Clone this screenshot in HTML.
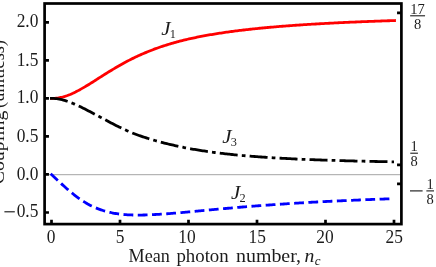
<!DOCTYPE html>
<html><head><meta charset="utf-8"><title>Coupling vs mean photon number</title>
<style>
html,body{margin:0;padding:0;background:#fff;}
body{width:436px;height:267px;overflow:hidden;font-family:"Liberation Serif",serif;}
svg{display:block;}
text{font-family:"Liberation Serif",serif;fill:#1c1c1c;}
.it{font-style:italic;}
</style></head><body>
<svg width="436" height="267" viewBox="0 0 436 267">
<rect x="0" y="0" width="436" height="267" fill="#ffffff"/>

<line x1="44.6" y1="174.70" x2="401.4" y2="174.70" stroke="#a4a4a4" stroke-width="1"/>
<path d="M50.13,98.36 L51.47,98.38 L52.80,98.36 L54.14,98.31 L55.47,98.22 L56.81,98.09 L58.14,97.92 L59.48,97.71 L60.81,97.45 L62.15,97.16 L63.48,96.82 L64.82,96.43 L66.15,96.00 L67.49,95.54 L68.82,95.03 L70.16,94.49 L71.49,93.91 L72.83,93.31 L74.16,92.67 L75.50,92.02 L76.83,91.33 L78.17,90.62 L79.50,89.90 L80.84,89.15 L82.17,88.39 L83.51,87.62 L84.84,86.84 L86.18,86.05 L87.51,85.25 L88.85,84.44 L90.18,83.62 L91.52,82.79 L92.85,81.96 L94.19,81.12 L95.52,80.27 L96.86,79.41 L98.19,78.55 L99.53,77.69 L100.86,76.83 L102.20,75.98 L103.53,75.13 L104.87,74.29 L106.20,73.46 L107.54,72.63 L108.87,71.81 L110.21,71.00 L111.54,70.19 L112.88,69.40 L114.21,68.60 L115.55,67.81 L116.88,67.03 L118.22,66.25 L119.55,65.48 L120.89,64.72 L122.22,63.96 L123.56,63.22 L124.89,62.49 L126.23,61.78 L127.57,61.08 L128.90,60.38 L130.24,59.70 L131.57,59.03 L132.91,58.37 L134.24,57.72 L135.58,57.09 L136.91,56.46 L138.25,55.84 L139.58,55.23 L140.92,54.64 L142.25,54.05 L143.59,53.47 L144.92,52.90 L146.26,52.34 L147.59,51.79 L148.93,51.25 L150.26,50.72 L151.60,50.20 L152.93,49.68 L154.27,49.18 L155.60,48.68 L156.94,48.20 L158.27,47.72 L159.61,47.26 L160.94,46.80 L162.28,46.36 L163.61,45.92 L164.95,45.48 L166.28,45.06 L167.62,44.64 L168.95,44.23 L170.29,43.83 L171.62,43.43 L172.96,43.05 L174.29,42.66 L175.63,42.29 L176.96,41.92 L178.30,41.57 L179.63,41.21 L180.97,40.87 L182.30,40.53 L183.64,40.20 L184.97,39.87 L186.31,39.56 L187.64,39.25 L188.98,38.94 L190.31,38.65 L191.65,38.36 L192.98,38.07 L194.32,37.79 L195.65,37.51 L196.99,37.23 L198.32,36.97 L199.66,36.70 L201.00,36.44 L202.33,36.19 L203.67,35.94 L205.00,35.69 L206.34,35.45 L207.67,35.21 L209.01,34.97 L210.34,34.74 L211.68,34.51 L213.01,34.29 L214.35,34.07 L215.68,33.85 L217.02,33.64 L218.35,33.43 L219.69,33.22 L221.02,33.02 L222.36,32.82 L223.69,32.62 L225.03,32.42 L226.36,32.23 L227.70,32.05 L229.03,31.86 L230.37,31.68 L231.70,31.50 L233.04,31.32 L234.37,31.14 L235.71,30.97 L237.04,30.80 L238.38,30.64 L239.71,30.47 L241.05,30.31 L242.38,30.15 L243.72,29.99 L245.05,29.84 L246.39,29.68 L247.72,29.53 L249.06,29.38 L250.39,29.24 L251.73,29.09 L253.06,28.95 L254.40,28.81 L255.73,28.67 L257.07,28.53 L258.40,28.40 L259.74,28.26 L261.07,28.13 L262.41,28.00 L263.74,27.88 L265.08,27.75 L266.41,27.63 L267.75,27.50 L269.08,27.38 L270.42,27.26 L271.75,27.14 L273.09,27.03 L274.42,26.91 L275.76,26.80 L277.10,26.69 L278.43,26.58 L279.77,26.47 L281.10,26.36 L282.44,26.25 L283.77,26.15 L285.11,26.05 L286.44,25.94 L287.78,25.84 L289.11,25.74 L290.45,25.64 L291.78,25.55 L293.12,25.45 L294.45,25.36 L295.79,25.26 L297.12,25.17 L298.46,25.08 L299.79,24.99 L301.13,24.90 L302.46,24.81 L303.80,24.72 L305.13,24.64 L306.47,24.55 L307.80,24.47 L309.14,24.38 L310.47,24.30 L311.81,24.22 L313.14,24.14 L314.48,24.06 L315.81,23.98 L317.15,23.90 L318.48,23.83 L319.82,23.75 L321.15,23.67 L322.49,23.60 L323.82,23.53 L325.16,23.45 L326.49,23.38 L327.83,23.31 L329.16,23.24 L330.50,23.17 L331.83,23.10 L333.17,23.03 L334.50,22.97 L335.84,22.90 L337.17,22.83 L338.51,22.77 L339.84,22.70 L341.18,22.64 L342.51,22.58 L343.85,22.52 L345.18,22.45 L346.52,22.39 L347.85,22.33 L349.19,22.27 L350.52,22.21 L351.86,22.15 L353.20,22.10 L354.53,22.04 L355.87,21.98 L357.20,21.92 L358.54,21.87 L359.87,21.81 L361.21,21.76 L362.54,21.70 L363.88,21.65 L365.21,21.60 L366.55,21.55 L367.88,21.49 L369.22,21.44 L370.55,21.39 L371.89,21.34 L373.22,21.29 L374.56,21.24 L375.89,21.19 L377.23,21.14 L378.56,21.09 L379.90,21.05 L381.23,21.00 L382.57,20.95 L383.90,20.91 L385.24,20.86 L386.57,20.81 L387.91,20.77 L389.24,20.73 L390.58,20.68 L391.91,20.64 L393.25,20.59 L394.58,20.55 L395.92,20.51" fill="none" stroke="#ff0000" stroke-width="2.8" stroke-linejoin="round"/>
<path d="M49.99,98.40 L51.32,98.38 L52.65,98.40 L53.98,98.46 L55.31,98.58 L56.63,98.73 L57.96,98.93 L59.29,99.16 L60.62,99.43 L61.95,99.73 L63.28,100.06 L64.60,100.43 L65.93,100.85 L67.26,101.29 L68.59,101.77 L69.92,102.26 L71.24,102.78 L72.57,103.31 L73.90,103.85 L75.23,104.41 L76.56,105.00 L77.89,105.60 L79.21,106.22 L80.54,106.86 L81.87,107.51 L83.20,108.17 L84.53,108.85 L85.85,109.53 L87.18,110.22 L88.51,110.91 L89.84,111.61 L91.17,112.32 L92.50,113.02 L93.82,113.72 L95.15,114.42 L96.48,115.12 L97.81,115.82 L99.14,116.52 L100.47,117.24 L101.79,117.96 L103.12,118.68 L104.45,119.39 L105.78,120.10 L107.11,120.81 L108.43,121.51 L109.76,122.21 L111.09,122.91 L112.42,123.60 L113.75,124.28 L115.08,124.96 L116.40,125.63 L117.73,126.29 L119.06,126.95 L120.39,127.60 L121.72,128.24 L123.04,128.87 L124.37,129.48 L125.70,130.09 L127.03,130.69 L128.36,131.28 L129.69,131.86 L131.01,132.42 L132.34,132.98 L133.67,133.52 L135.00,134.04 L136.33,134.54 L137.66,135.02 L138.98,135.48 L140.31,135.93 L141.64,136.38 L142.97,136.81 L144.30,137.24 L145.62,137.66 L146.95,138.08 L148.28,138.50 L149.61,138.92 L150.94,139.33 L152.27,139.73 L153.59,140.12 L154.92,140.51 L156.25,140.89 L157.58,141.27 L158.91,141.63 L160.23,141.99 L161.56,142.35 L162.89,142.69 L164.22,143.04 L165.55,143.37 L166.88,143.69 L168.20,144.01 L169.53,144.32 L170.86,144.63 L172.19,144.93 L173.52,145.22 L174.84,145.52 L176.17,145.81 L177.50,146.10 L178.83,146.40 L180.16,146.68 L181.49,146.96 L182.81,147.24 L184.14,147.51 L185.47,147.77 L186.80,148.03 L188.13,148.29 L189.46,148.54 L190.78,148.78 L192.11,149.02 L193.44,149.26 L194.77,149.49 L196.10,149.72 L197.42,149.94 L198.75,150.16 L200.08,150.37 L201.41,150.58 L202.74,150.79 L204.07,150.99 L205.39,151.19 L206.72,151.39 L208.05,151.58 L209.38,151.77 L210.71,151.96 L212.03,152.14 L213.36,152.32 L214.69,152.49 L216.02,152.66 L217.35,152.83 L218.68,153.00 L220.00,153.16 L221.33,153.32 L222.66,153.48 L223.99,153.63 L225.32,153.78 L226.65,153.93 L227.97,154.08 L229.30,154.22 L230.63,154.36 L231.96,154.50 L233.29,154.64 L234.61,154.77 L235.94,154.90 L237.27,155.03 L238.60,155.16 L239.93,155.28 L241.26,155.40 L242.58,155.52 L243.91,155.64 L245.24,155.75 L246.57,155.87 L247.90,155.98 L249.22,156.09 L250.55,156.20 L251.88,156.30 L253.21,156.41 L254.54,156.51 L255.87,156.61 L257.19,156.71 L258.52,156.81 L259.85,156.90 L261.18,157.00 L262.51,157.09 L263.84,157.18 L265.16,157.27 L266.49,157.36 L267.82,157.44 L269.15,157.53 L270.48,157.61 L271.80,157.70 L273.13,157.78 L274.46,157.86 L275.79,157.94 L277.12,158.01 L278.45,158.09 L279.77,158.17 L281.10,158.24 L282.43,158.31 L283.76,158.38 L285.09,158.45 L286.41,158.52 L287.74,158.59 L289.07,158.66 L290.40,158.72 L291.73,158.79 L293.06,158.85 L294.38,158.92 L295.71,158.98 L297.04,159.04 L298.37,159.10 L299.70,159.16 L301.03,159.22 L302.35,159.28 L303.68,159.33 L305.01,159.39 L306.34,159.44 L307.67,159.50 L308.99,159.55 L310.32,159.61 L311.65,159.66 L312.98,159.71 L314.31,159.76 L315.64,159.81 L316.96,159.86 L318.29,159.91 L319.62,159.96 L320.95,160.00 L322.28,160.05 L323.60,160.09 L324.93,160.14 L326.26,160.18 L327.59,160.23 L328.92,160.27 L330.25,160.31 L331.57,160.36 L332.90,160.40 L334.23,160.44 L335.56,160.48 L336.89,160.52 L338.22,160.56 L339.54,160.60 L340.87,160.64 L342.20,160.67 L343.53,160.71 L344.86,160.75 L346.18,160.79 L347.51,160.82 L348.84,160.86 L350.17,160.89 L351.50,160.93 L352.83,160.96 L354.15,160.99 L355.48,161.03 L356.81,161.06 L358.14,161.09 L359.47,161.12 L360.79,161.16 L362.12,161.19 L363.45,161.22 L364.78,161.25 L366.11,161.28 L367.44,161.31 L368.76,161.34 L370.09,161.37 L371.42,161.39 L372.75,161.42 L374.08,161.45 L375.41,161.48 L376.73,161.50 L378.06,161.53 L379.39,161.56 L380.72,161.58 L382.05,161.61 L383.37,161.64 L384.70,161.66 L386.03,161.69 L387.36,161.71 L388.69,161.74 L390.02,161.76 L391.34,161.78 L392.67,161.81 L394.00,161.83" fill="none" stroke="#000000" stroke-width="2.8" stroke-dasharray="18.0 4.15 3.7 4.15" stroke-linejoin="round"/>
<path d="M50.68,173.68 L52.00,174.92 L53.33,176.17 L54.65,177.42 L55.97,178.67 L57.30,179.92 L58.62,181.17 L59.95,182.41 L61.27,183.64 L62.59,184.87 L63.92,186.08 L65.24,187.27 L66.57,188.45 L67.89,189.60 L69.21,190.74 L70.54,191.85 L71.86,192.94 L73.19,194.01 L74.51,195.05 L75.83,196.07 L77.16,197.06 L78.48,198.03 L79.81,198.97 L81.13,199.88 L82.45,200.76 L83.78,201.61 L85.10,202.43 L86.43,203.22 L87.75,203.98 L89.07,204.70 L90.40,205.39 L91.72,206.05 L93.05,206.68 L94.37,207.27 L95.69,207.84 L97.02,208.38 L98.34,208.90 L99.67,209.39 L100.99,209.85 L102.31,210.29 L103.64,210.71 L104.96,211.11 L106.29,211.48 L107.61,211.83 L108.93,212.16 L110.26,212.46 L111.58,212.75 L112.91,213.02 L114.23,213.27 L115.55,213.50 L116.88,213.71 L118.20,213.90 L119.52,214.07 L120.85,214.22 L122.17,214.36 L123.50,214.49 L124.82,214.60 L126.14,214.69 L127.47,214.78 L128.79,214.85 L130.12,214.91 L131.44,214.97 L132.76,215.01 L134.09,215.04 L135.41,215.07 L136.74,215.08 L138.06,215.09 L139.38,215.08 L140.71,215.07 L142.03,215.05 L143.36,215.02 L144.68,214.99 L146.00,214.95 L147.33,214.90 L148.65,214.85 L149.98,214.79 L151.30,214.73 L152.62,214.66 L153.95,214.59 L155.27,214.52 L156.60,214.44 L157.92,214.36 L159.24,214.28 L160.57,214.19 L161.89,214.11 L163.22,214.02 L164.54,213.92 L165.86,213.83 L167.19,213.73 L168.51,213.63 L169.84,213.53 L171.16,213.42 L172.48,213.32 L173.81,213.21 L175.13,213.10 L176.46,212.99 L177.78,212.87 L179.10,212.76 L180.43,212.64 L181.75,212.52 L183.08,212.40 L184.40,212.29 L185.72,212.17 L187.05,212.04 L188.37,211.92 L189.70,211.80 L191.02,211.68 L192.34,211.56 L193.67,211.43 L194.99,211.31 L196.32,211.19 L197.64,211.06 L198.96,210.94 L200.29,210.81 L201.61,210.69 L202.94,210.57 L204.26,210.44 L205.58,210.32 L206.91,210.19 L208.23,210.07 L209.56,209.95 L210.88,209.83 L212.20,209.70 L213.53,209.58 L214.85,209.46 L216.18,209.34 L217.50,209.22 L218.82,209.10 L220.15,208.98 L221.47,208.86 L222.80,208.74 L224.12,208.62 L225.44,208.50 L226.77,208.38 L228.09,208.27 L229.42,208.15 L230.74,208.03 L232.06,207.92 L233.39,207.80 L234.71,207.69 L236.04,207.58 L237.36,207.46 L238.68,207.35 L240.01,207.24 L241.33,207.13 L242.66,207.02 L243.98,206.91 L245.30,206.80 L246.63,206.70 L247.95,206.59 L249.28,206.48 L250.60,206.38 L251.92,206.27 L253.25,206.17 L254.57,206.07 L255.90,205.97 L257.22,205.86 L258.54,205.76 L259.87,205.66 L261.19,205.56 L262.51,205.47 L263.84,205.37 L265.16,205.27 L266.49,205.17 L267.81,205.08 L269.13,204.98 L270.46,204.89 L271.78,204.80 L273.11,204.70 L274.43,204.61 L275.75,204.52 L277.08,204.43 L278.40,204.34 L279.73,204.25 L281.05,204.16 L282.37,204.07 L283.70,203.98 L285.02,203.89 L286.35,203.80 L287.67,203.72 L288.99,203.63 L290.32,203.55 L291.64,203.46 L292.97,203.38 L294.29,203.29 L295.61,203.21 L296.94,203.13 L298.26,203.05 L299.59,202.97 L300.91,202.89 L302.23,202.81 L303.56,202.73 L304.88,202.65 L306.21,202.57 L307.53,202.50 L308.85,202.42 L310.18,202.34 L311.50,202.27 L312.83,202.20 L314.15,202.12 L315.47,202.05 L316.80,201.98 L318.12,201.91 L319.45,201.84 L320.77,201.77 L322.09,201.70 L323.42,201.63 L324.74,201.57 L326.07,201.50 L327.39,201.43 L328.71,201.37 L330.04,201.31 L331.36,201.24 L332.69,201.18 L334.01,201.11 L335.33,201.05 L336.66,200.99 L337.98,200.93 L339.31,200.87 L340.63,200.81 L341.95,200.75 L343.28,200.69 L344.60,200.63 L345.93,200.57 L347.25,200.51 L348.57,200.45 L349.90,200.39 L351.22,200.33 L352.55,200.28 L353.87,200.22 L355.19,200.16 L356.52,200.11 L357.84,200.05 L359.17,200.00 L360.49,199.94 L361.81,199.89 L363.14,199.83 L364.46,199.78 L365.79,199.72 L367.11,199.67 L368.43,199.62 L369.76,199.57 L371.08,199.51 L372.41,199.46 L373.73,199.41 L375.05,199.36 L376.38,199.31 L377.70,199.26 L379.03,199.21 L380.35,199.16 L381.67,199.11 L383.00,199.06 L384.32,199.01 L385.65,198.96 L386.97,198.92 L388.29,198.87 L389.62,198.82 L390.94,198.77 L392.27,198.73 L393.59,198.68" fill="none" stroke="#0000ff" stroke-width="2.8" stroke-dasharray="9.8 4.46" stroke-linejoin="round"/>
<path d="M44.6,22.31h4.35 M44.6,60.34h4.35 M44.6,98.38h4.35 M44.6,136.41h4.35 M44.6,174.45h4.35 M44.6,212.48h4.35 M401.4,12.80h-4.35 M401.4,164.94h-4.35 M401.4,183.96h-4.35 M51.50,224.1v-4.35 M120.00,224.1v-4.35 M188.50,224.1v-4.35 M257.00,224.1v-4.35 M325.50,224.1v-4.35 M394.00,224.1v-4.35" fill="none" stroke="#000" stroke-width="2.7"/>
<rect x="44.6" y="3.5" width="356.80" height="220.60" fill="none" stroke="#000" stroke-width="2.7"/>
<g style="filter:grayscale(1)">
<text transform="translate(38.40,26.60) scale(0.955,1)" font-size="18.2" text-anchor="end">2.0</text>
<text transform="translate(38.40,65.70) scale(0.955,1)" font-size="18.2" text-anchor="end">1.5</text>
<text transform="translate(38.40,102.60) scale(0.955,1)" font-size="18.2" text-anchor="end">1.0</text>
<text transform="translate(38.40,141.50) scale(0.955,1)" font-size="18.2" text-anchor="end">0.5</text>
<text transform="translate(38.40,180.30) scale(0.955,1)" font-size="18.2" text-anchor="end">0.0</text>
<text transform="translate(38.40,217.20) scale(0.955,1)" font-size="18.2" text-anchor="end">0.5</text>
<line x1="4.4" y1="211.8" x2="14.8" y2="211.8" stroke="#111" stroke-width="1.1"/>
<text transform="translate(51.00,243.00) scale(0.955,1)" font-size="18.2" text-anchor="middle">0</text>
<text transform="translate(120.10,243.00) scale(0.955,1)" font-size="18.2" text-anchor="middle">5</text>
<text transform="translate(187.00,243.00) scale(0.955,1)" font-size="18.2" text-anchor="middle">10</text>
<text transform="translate(257.20,243.00) scale(0.955,1)" font-size="18.2" text-anchor="middle">15</text>
<text transform="translate(325.00,243.00) scale(0.955,1)" font-size="18.2" text-anchor="middle">20</text>
<text transform="translate(394.20,243.00) scale(0.955,1)" font-size="18.2" text-anchor="middle">25</text>
<text x="128.6" y="261.5" font-size="18.2" textLength="41.3" lengthAdjust="spacingAndGlyphs">Mean</text>
<text x="176.4" y="261.5" font-size="18.2" textLength="52.3" lengthAdjust="spacingAndGlyphs">photon</text>
<text x="236.0" y="261.5" font-size="18.2" textLength="65.0" lengthAdjust="spacingAndGlyphs">number,</text>
<text transform="translate(304.60,261.50) scale(1.08,1)" font-size="18.2" text-anchor="start" class="it">n</text>
<text transform="translate(314.70,265.00) scale(1.0,1)" font-size="13" text-anchor="start" class="it">c</text>
<text transform="translate(3.9,184.2) rotate(-90)" font-size="18.2" textLength="73.6" lengthAdjust="spacingAndGlyphs">Coupling</text>
<text transform="translate(3.9,107.9) rotate(-90)" font-size="18.2" textLength="67.9" lengthAdjust="spacingAndGlyphs">(unitless)</text>
<text transform="translate(161.20,34.80) scale(1.14,1)" font-size="18.4" text-anchor="start" class="it">J</text><text transform="translate(169.80,37.80) scale(0.95,1)" font-size="13" text-anchor="start">1</text>
<text transform="translate(222.20,143.30) scale(1.14,1)" font-size="18.4" text-anchor="start" class="it">J</text><text transform="translate(230.80,146.30) scale(0.95,1)" font-size="13" text-anchor="start">3</text>
<text transform="translate(230.90,198.90) scale(1.14,1)" font-size="18.4" text-anchor="start" class="it">J</text><text transform="translate(239.50,201.90) scale(0.95,1)" font-size="13" text-anchor="start">2</text>
<text transform="translate(417.60,13.60) scale(0.93,1)" font-size="15.6" text-anchor="middle">17</text><line x1="410.15" y1="15.8" x2="425.05" y2="15.8" stroke="#111" stroke-width="1.05"/><text transform="translate(417.60,28.90) scale(0.93,1)" font-size="15.6" text-anchor="middle">8</text>
<text transform="translate(414.10,151.00) scale(0.93,1)" font-size="15.6" text-anchor="middle">1</text><line x1="410.27" y1="153.2" x2="417.93" y2="153.2" stroke="#111" stroke-width="1.05"/><text transform="translate(414.10,166.30) scale(0.93,1)" font-size="15.6" text-anchor="middle">8</text>
<text transform="translate(430.20,188.70) scale(0.93,1)" font-size="15.6" text-anchor="middle">1</text><line x1="426.37" y1="190.9" x2="434.03" y2="190.9" stroke="#111" stroke-width="1.05"/><text transform="translate(430.20,204.00) scale(0.93,1)" font-size="15.6" text-anchor="middle">8</text>
<line x1="410.0" y1="190.9" x2="422.6" y2="190.9" stroke="#111" stroke-width="1.1"/>
</g>
</svg></body></html>
